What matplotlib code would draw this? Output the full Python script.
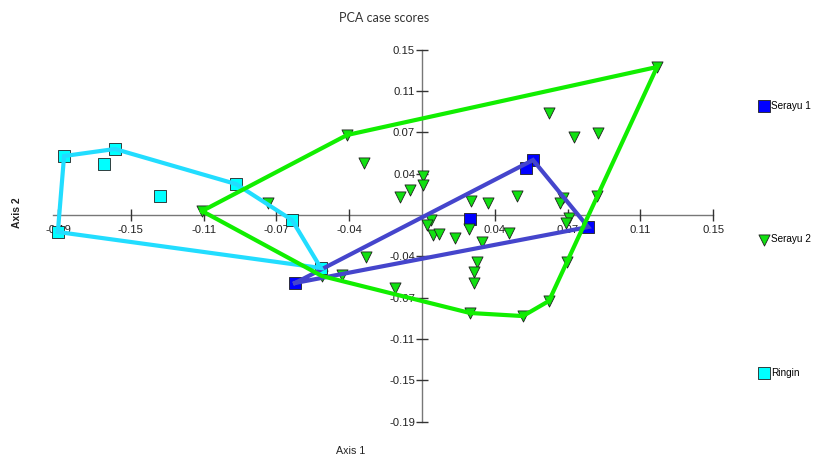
import matplotlib
matplotlib.use("Agg")
import matplotlib.pyplot as plt
from matplotlib import font_manager
import numpy as np

# font: narrow Arial-like if available
font_names = {f.name for f in font_manager.fontManager.ttflist}
if "Liberation Sans Narrow" in font_names:
    narrow, nscale = "Liberation Sans Narrow", 1.0
else:
    narrow, nscale = "Liberation Sans", 0.85

# PCA scores (axis 1, axis 2)
serayu1_x = [0.0572, 0.0536, 0.0247, 0.0856, -0.0654]
serayu1_y = [0.0499, 0.0427, -0.0036, -0.0109, -0.0617]

serayu2_x = [-0.0386, -0.0299, -0.0113, -0.0062, 0.0005, 0.0005, 0.0252, 0.0340,
             0.0489, 0.0654, 0.0783, 0.0907, 0.0726, 0.0711, 0.0902, 0.0757,
             0.0742, 0.0046, 0.0026, 0.0057, 0.0088, 0.0170, 0.0242, 0.0309,
             0.0448, -0.0289, 0.0283, 0.0268, 0.0268, 0.0747, -0.0412, -0.0139,
             0.0247, 0.0520, 0.0654, -0.1133, -0.0793, 0.1211, -0.0515]
serayu2_y = [0.0726, 0.0472, 0.0163, 0.0227, 0.0354, 0.0272, 0.0127, 0.0109,
             0.0172, 0.0926, 0.0708, 0.0744, 0.0154, 0.0109, 0.0172, -0.0027,
             -0.0073, -0.0045, -0.0091, -0.0181, -0.0172, -0.0209, -0.0127, -0.0245,
             -0.0163, -0.0381, -0.0426, -0.0517, -0.0617, -0.0426, -0.0544, -0.0662,
             -0.0889, -0.0917, -0.0780, 0.0036, 0.0109, 0.1343, -0.0554]

ringin_x = [-0.1876, -0.1844, -0.1638, -0.1582, -0.1350, -0.0958, -0.0670, -0.0521]
ringin_y = [-0.0154, 0.0535, 0.0463, 0.0599, 0.0172, 0.0281, -0.0045, -0.0481]

tick_vals = [-0.1875, -0.15, -0.1125, -0.075, -0.0375, 0.0375, 0.075, 0.1125, 0.15]
x_tick_labels = ["-0.19", "-0.15", "-0.11", "-0.07", "-0.04", "0.04", "0.07", "0.11", "0.15"]
y_tick_labels = ["-0.19", "-0.15", "-0.11", "-0.07", "-0.04", "0.04", "0.07", "0.11", "0.15"]


def convex_hull(xs, ys):
    pts = sorted(set(zip(xs, ys)))

    def cross(o, a, b):
        return (a[0] - o[0]) * (b[1] - o[1]) - (a[1] - o[1]) * (b[0] - o[0])

    lower, upper = [], []
    for p in pts:
        while len(lower) >= 2 and cross(lower[-2], lower[-1], p) <= 0:
            lower.pop()
        lower.append(p)
    for p in reversed(pts):
        while len(upper) >= 2 and cross(upper[-2], upper[-1], p) <= 0:
            upper.pop()
        upper.append(p)
    hull = lower[:-1] + upper[:-1]
    hull.append(hull[0])
    return np.array(hull)


fig = plt.figure(figsize=(8.16, 4.59), dpi=100)
ax = fig.add_axes([40 / 816, 27 / 459, 690 / 816, 392 / 459])
ax.set_xlim(-0.1968, 0.1587)
ax.set_ylim(-0.1969, 0.1588)

# points
s1 = ax.scatter(serayu1_x, serayu1_y, marker="s", s=64, c="#0000FF",
                edgecolors="#202020", linewidths=0.6, zorder=3, label="Serayu 1")
s2 = ax.scatter(serayu2_x, serayu2_y, marker="v", s=64, c="#11E011",
                edgecolors="#202020", linewidths=0.6, zorder=3, label="Serayu 2")
s3 = ax.scatter(ringin_x, ringin_y, marker="s", s=64, c="#00FFFF",
                edgecolors="#202020", linewidths=0.6, zorder=3, label="Ringin")

# convex hulls
h = convex_hull(serayu1_x, serayu1_y)
ax.plot(h[:, 0], h[:, 1], color="#4545CC", lw=3, zorder=4, solid_joinstyle="miter")
h = convex_hull(ringin_x, ringin_y)
ax.plot(h[:, 0], h[:, 1], color="#22DDFF", lw=3, zorder=5, solid_joinstyle="miter")
h = convex_hull(serayu2_x, serayu2_y)
ax.plot(h[:, 0], h[:, 1], color="#11EE00", lw=3, zorder=6, solid_joinstyle="miter")

# cross axes through origin
for side in ["top", "right"]:
    ax.spines[side].set_visible(False)
ax.spines["left"].set_position(("data", 0))
ax.spines["bottom"].set_position(("data", 0))
ax.spines["left"].set_bounds(-0.1875, 0.15)
ax.spines["bottom"].set_bounds(-0.19, 0.15)
for side in ["left", "bottom"]:
    ax.spines[side].set_color("#777777")
    ax.spines[side].set_linewidth(1)
    ax.spines[side].set_zorder(1)

ax.set_xticks(tick_vals)
ax.set_xticklabels(x_tick_labels)
ax.set_yticks(tick_vals)
ax.set_yticklabels(y_tick_labels)
ax.tick_params(axis="x", direction="inout", length=9, width=1, color="#333333",
               pad=2.5, labelsize=9.5 * nscale, labelcolor="#222222")
ax.tick_params(axis="y", direction="inout", length=9, width=1, color="#333333",
               pad=0.5, labelsize=9.5 * nscale, labelcolor="#222222")
for lab in ax.get_xticklabels() + ax.get_yticklabels():
    lab.set_family(narrow)

# texts
fig.text(384 / 816, 1 - 18 / 459, "PCA case scores", ha="center", va="center",
         fontsize=9, family="Lato", color="#333333")
fig.text(351 / 816, 1 - 451 / 459, "Axis 1", ha="center", va="center",
         fontsize=9 * nscale, family=narrow, color="#222222")
fig.text(17 / 816, 1 - 213 / 459, "Axis 2", ha="center", va="center", rotation=90,
         fontsize=7.5, family="Liberation Sans", fontweight="bold", color="#222222")

# legend, entries spaced far apart like the original
leg_size = 8.5 * nscale
leg_px = leg_size * 100 / 72
leg_spacing = (133 - 0.95 * leg_px) / leg_px
leg = fig.legend(handles=[s1, s2, s3], loc="upper left",
                 bbox_to_anchor=(759 / 816, 1 - 101 / 459), frameon=False,
                 handlelength=0.9, handletextpad=0.3, labelspacing=leg_spacing,
                 borderpad=0, borderaxespad=0, scatterpoints=1,
                 prop={"family": narrow, "size": leg_size})

fig.savefig("out.png", dpi=100)
